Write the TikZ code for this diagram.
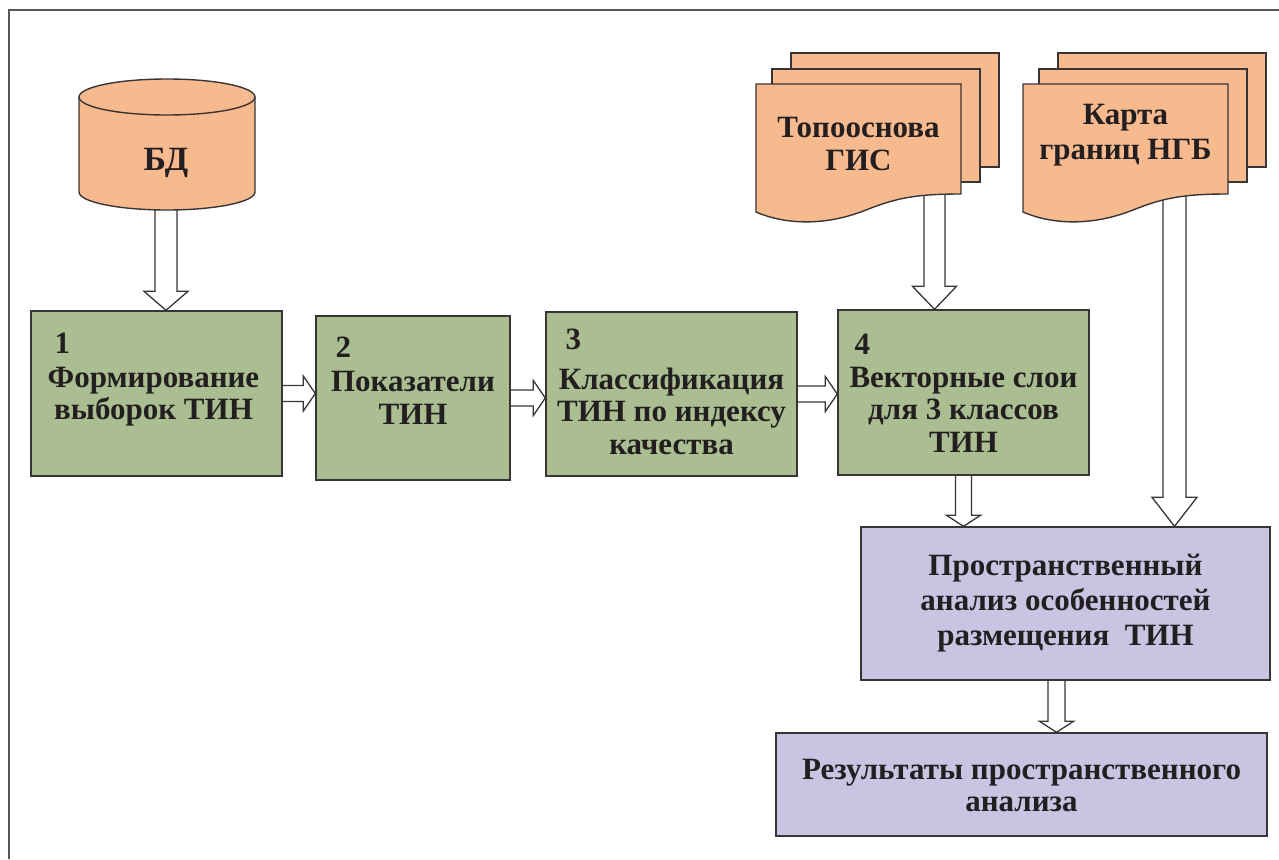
\documentclass[tikz,border=0pt]{standalone}
\usepackage{fontspec}
\setmainfont{Liberation Serif}
\usetikzlibrary{calc,backgrounds}

\definecolor{peach}{RGB}{247,185,142}
\definecolor{sage}{RGB}{170,190,146}
\definecolor{lilac}{RGB}{200,196,226}
\definecolor{ink}{RGB}{35,31,32}

\tikzset{
  outline/.style={draw=ink!90, line width=1.4},
  stepbox/.style={outline, fill=#1, inner sep=0pt},
  caption/.style={font=\bfseries\fontsize{31}{32.5}\selectfont, text=ink, align=center, inner sep=0pt},
  widecaption/.style={caption, font=\bfseries\fontsize{31}{35}\selectfont},
  num/.style={font=\bfseries\fontsize{31}{32}\selectfont, text=ink, inner sep=0pt, anchor=west},
  hollow/.style={draw=ink!90, line width=1.3, fill=white},
}

% hollow block arrows: start, end, shaft half width, head half width, head length
\newcommand{\downblock}[5]{%
  \draw[hollow] let \p1=(#1), \p2=(#2) in
    (\x1-#3,\y1) -- (\x1-#3,\y2+#5) -- (\x1-#4,\y2+#5) -- (\x1,\y2)
    -- (\x1+#4,\y2+#5) -- (\x1+#3,\y2+#5) -- (\x1+#3,\y1);}
\newcommand{\rightblock}[5]{%
  \draw[hollow] let \p1=(#1), \p2=(#2) in
    (\x1,\y1+#3) -- (\x2-#5,\y1+#3) -- (\x2-#5,\y1+#4) -- (\x2,\y1)
    -- (\x2-#5,\y1-#4) -- (\x2-#5,\y1-#3) -- (\x1,\y1-#3);}
% stack of three pages, #1 = left edge of the front page
\newcommand{\docstack}[1]{%
  \draw[outline, fill=peach] (#1+35,-53) rectangle (#1+243,-167);
  \draw[outline, fill=peach] (#1+16,-69) rectangle (#1+224,-182);
  \draw[outline, fill=peach] (#1,-84) -- (#1+205,-84) -- (#1+205,-194)
    .. controls (#1+160,-194) and (#1+140,-198) .. (#1+110,-210)
    .. controls (#1+70,-226) and (#1+30,-225) .. (#1,-212) -- cycle;}

\begin{document}
\begin{tikzpicture}[x=1pt, y=1pt]
  \useasboundingbox (0,0) rectangle (1279,-859);
  \draw[ink!75, line width=1.6] (9,-859) -- (9,-10) -- (1279,-10);

  % database
  \draw[outline, fill=peach] (79,-97) -- (79,-192)
    arc[start angle=180, end angle=360, x radius=88, y radius=18] -- (255,-97);
  \draw[outline, fill=peach] (167,-97) ellipse [x radius=88, y radius=18];
  \node[caption, font=\bfseries\fontsize{34}{36}\selectfont] (db) at (166,-163) {БД};

  % source maps
  \docstack{756}
  \docstack{1023}
  \node[caption] (topo) at (858.5,-144) {Топооснова\\ГИС};
  \node[widecaption] (karta) at (1125.5,-135) {Карта\\границ НГБ};

  % steps
  \node[stepbox=sage, minimum width=251, minimum height=165] (b1) at (156.5,-393.5) {};
  \node[stepbox=sage, minimum width=194, minimum height=164] (b2) at (413,-398) {};
  \node[stepbox=sage, minimum width=251, minimum height=164] (b3) at (671.5,-394) {};
  \node[stepbox=sage, minimum width=251, minimum height=165] (b4) at (963.5,-392.5) {};
  \node[stepbox=lilac, minimum width=409, minimum height=153] (p1) at (1065.5,-603.5) {};
  \node[stepbox=lilac, minimum width=491, minimum height=103] (p2) at (1021.5,-784.5) {};

  \node[num] (n1) at ([shift={(24,-33)}]b1.north west) {1};
  \node[num] (n2) at ([shift={(20,-32)}]b2.north west) {2};
  \node[num] (n3) at ([shift={(20,-28)}]b3.north west) {3};
  \node[num] (n4) at ([shift={(17,-35)}]b4.north west) {4};

  \node[caption] (t1) at ([shift={(-3,-3)}]b1.center) {Формирование\\выборок ТИН};
  \node[caption] (t2) at (b2.center) {Показатели\\ТИН};
  \node[caption] (t3) at ([yshift=-17]b3.center) {Классификация\\ТИН по индексу\\качества};
  \node[caption] (t4) at ([yshift=-17]b4.center) {Векторные слои\\для 3 классов\\ТИН};
  \node[widecaption] (t5) at (p1.center) {Пространственный\\анализ особенностей\\размещения~~ТИН};
  \node[caption] (t6) at ([yshift=-1]p2.center) {Результаты пространственного\\анализа};

  % arrows
  \begin{scope}[on background layer]
    \downblock{db}{b1.north}{11}{22}{19}
    \downblock{[xshift=76]topo.center}{b4.north}{10.5}{22}{23}
    \downblock{[xshift=49]karta.center}{p1.north}{11.5}{22.5}{29}
    \downblock{b4.south}{p1.north}{8}{17}{11}
    \downblock{[xshift=-9]p1.south}{p2.north}{8.5}{17}{11}
    \rightblock{b1.east}{b2.west}{8}{17.5}{12}
    \rightblock{b2.east}{b3.west}{8}{17.5}{12}
    \rightblock{b3.east}{b4.west}{8}{17.5}{12}
  \end{scope}
\end{tikzpicture}
\end{document}
